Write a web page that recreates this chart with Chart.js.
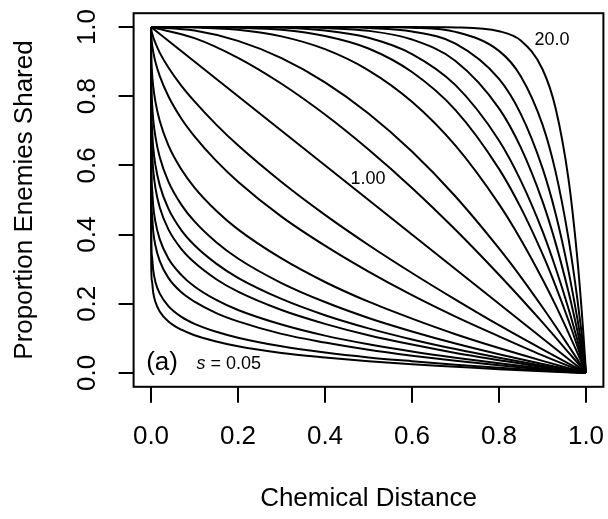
<!DOCTYPE html>
<html>
<head>
<meta charset="utf-8">
<script src="https://cdn.jsdelivr.net/npm/chart.js@4.4.1/dist/chart.umd.min.js"></script>
<style>
  html, body { margin: 0; padding: 0; background: #fff; }
</style>
</head>
<body>
<canvas id="chart" width="608" height="519"></canvas>
<script>
// Chemical distance grid for the curves that bend near the left edge (s <= 1)
const xLeft = [0, 0.0005, 0.002, 0.005, 0.01, 0.02, 0.04, 0.07, 0.1, 0.15, 0.2, 0.3, 0.4, 0.5, 0.6, 0.7, 0.8, 0.9, 1];
// Chemical distance grid for the curves that bend near the right edge (s > 1)
const xRight = [0, 0.1, 0.2, 0.3, 0.4, 0.5, 0.6, 0.7, 0.8, 0.85, 0.9, 0.93, 0.96, 0.98, 0.99, 0.995, 0.998, 0.9995, 1];

// Proportion of enemies shared, one array per shape value s
const shared_s0050 = [1, 0.316, 0.267, 0.233, 0.206, 0.178, 0.149, 0.125, 0.109, 0.091, 0.077, 0.058, 0.045, 0.034, 0.025, 0.018, 0.011, 0.005, 0];
const shared_s0067 = [1, 0.398, 0.339, 0.298, 0.264, 0.230, 0.193, 0.162, 0.142, 0.119, 0.102, 0.077, 0.059, 0.045, 0.034, 0.024, 0.015, 0.007, 0];
const shared_s0100 = [1, 0.532, 0.463, 0.411, 0.369, 0.324, 0.275, 0.233, 0.206, 0.173, 0.149, 0.113, 0.088, 0.067, 0.050, 0.035, 0.022, 0.010, 0];
const shared_s0125 = [1, 0.613, 0.540, 0.484, 0.438, 0.387, 0.331, 0.283, 0.250, 0.211, 0.182, 0.140, 0.108, 0.083, 0.062, 0.044, 0.028, 0.013, 0];
const shared_s0167 = [1, 0.718, 0.645, 0.587, 0.536, 0.479, 0.415, 0.358, 0.319, 0.271, 0.235, 0.182, 0.142, 0.109, 0.082, 0.058, 0.037, 0.017, 0];
const shared_s0200 = [1, 0.781, 0.712, 0.653, 0.602, 0.543, 0.475, 0.412, 0.369, 0.316, 0.275, 0.214, 0.167, 0.129, 0.097, 0.069, 0.044, 0.021, 0];
const shared_s0250 = [1, 0.850, 0.789, 0.734, 0.684, 0.624, 0.553, 0.486, 0.438, 0.378, 0.331, 0.260, 0.205, 0.159, 0.120, 0.085, 0.054, 0.026, 0];
const shared_s0333 = [1, 0.921, 0.874, 0.829, 0.785, 0.729, 0.658, 0.588, 0.536, 0.469, 0.415, 0.331, 0.263, 0.206, 0.157, 0.112, 0.072, 0.035, 0];
const shared_s0500 = [1, 0.978, 0.955, 0.929, 0.900, 0.859, 0.800, 0.735, 0.684, 0.613, 0.553, 0.452, 0.368, 0.293, 0.225, 0.163, 0.106, 0.051, 0];
const shared_s0667 = [1, 0.994, 0.984, 0.971, 0.954, 0.926, 0.883, 0.830, 0.785, 0.718, 0.658, 0.552, 0.457, 0.370, 0.289, 0.212, 0.138, 0.068, 0];
const linearX = [0, 1];
const shared_s1000 = [1, 0];
const shared_s1500 = [1, 0.968, 0.911, 0.836, 0.747, 0.646, 0.535, 0.414, 0.284, 0.216, 0.146, 0.103, 0.059, 0.030, 0.015, 0.0075, 0.003, 0.0007, 0];
const shared_s2000 = [1, 0.990, 0.960, 0.910, 0.840, 0.750, 0.640, 0.510, 0.360, 0.278, 0.190, 0.135, 0.078, 0.040, 0.020, 0.010, 0.004, 0.001, 0];
const shared_s3000 = [1, 0.999, 0.992, 0.973, 0.936, 0.875, 0.784, 0.657, 0.488, 0.386, 0.271, 0.196, 0.115, 0.059, 0.030, 0.015, 0.006, 0.0015, 0];
const shared_s4000 = [1, 1, 0.998, 0.992, 0.974, 0.938, 0.870, 0.760, 0.590, 0.478, 0.344, 0.252, 0.151, 0.078, 0.039, 0.020, 0.008, 0.002, 0];
const shared_s5000 = [1, 1, 1, 0.998, 0.990, 0.969, 0.922, 0.832, 0.672, 0.556, 0.410, 0.304, 0.185, 0.096, 0.049, 0.025, 0.010, 0.0025, 0];
const shared_s6500 = [1, 1, 1, 1, 0.997, 0.989, 0.964, 0.902, 0.765, 0.652, 0.496, 0.376, 0.233, 0.123, 0.063, 0.032, 0.013, 0.003, 0];
const shared_s8500 = [1, 1, 1, 1, 1, 0.997, 0.987, 0.952, 0.850, 0.749, 0.592, 0.461, 0.293, 0.158, 0.082, 0.042, 0.017, 0.004, 0];
const shared_s12000 = [1, 1, 1, 1, 1, 1, 0.998, 0.986, 0.931, 0.858, 0.718, 0.582, 0.387, 0.215, 0.114, 0.058, 0.024, 0.006, 0];
const shared_s20000 = [1, 1, 1, 1, 1, 1, 1, 0.999, 0.988, 0.961, 0.878, 0.766, 0.558, 0.332, 0.182, 0.095, 0.039, 0.010, 0];

// Axis tick values
const tickValues = [0, 0.2, 0.4, 0.6, 0.8, 1.0];

// Curve annotations: text and anchor (data units)
const curveLabels = ['20.0', '1.00'];
const curveLabelX = [0.922, 0.499];
const curveLabelY = [0.962, 0.562];

const curves = [
  [xLeft, shared_s0050], [xLeft, shared_s0067], [xLeft, shared_s0100], [xLeft, shared_s0125],
  [xLeft, shared_s0167], [xLeft, shared_s0200], [xLeft, shared_s0250], [xLeft, shared_s0333],
  [xLeft, shared_s0500], [xLeft, shared_s0667], [linearX, shared_s1000],
  [xRight, shared_s1500], [xRight, shared_s2000], [xRight, shared_s3000], [xRight, shared_s4000],
  [xRight, shared_s5000], [xRight, shared_s6500], [xRight, shared_s8500], [xRight, shared_s12000],
  [xRight, shared_s20000]
];

const FONT = "'Liberation Sans', Arial, Helvetica, sans-serif";

const datasets = curves.map(([xs, ys]) => ({
  data: xs.map((x, i) => ({ x: x, y: ys[i] })),
  showLine: true,
  borderColor: '#000',
  borderWidth: 2,
  pointRadius: 0,
  fill: false,
  cubicInterpolationMode: 'monotone'
}));

// Frame around the plotting region
const framePlugin = {
  id: 'frame',
  afterDatasetsDraw(chart) {
    const { ctx, chartArea: a } = chart;
    ctx.save();
    ctx.strokeStyle = '#000';
    ctx.lineWidth = 2;
    ctx.strokeRect(a.left, a.top, a.right - a.left, a.bottom - a.top);
    ctx.restore();
  }
};

// Curve labels and panel tag
const annotationPlugin = {
  id: 'annotations',
  afterDatasetsDraw(chart) {
    const { ctx, scales: { x, y } } = chart;
    ctx.save();
    ctx.fillStyle = '#000';
    ctx.textBaseline = 'middle';
    ctx.textAlign = 'center';
    ctx.font = `18px ${FONT}`;
    curveLabels.forEach((t, i) => {
      ctx.fillText(t, x.getPixelForValue(curveLabelX[i]), y.getPixelForValue(curveLabelY[i]));
    });
    // panel tag
    ctx.textAlign = 'left';
    ctx.font = `26px ${FONT}`;
    ctx.fillText('(a)', x.getPixelForValue(-0.011), y.getPixelForValue(0.029));
    // smallest shape value
    let px = x.getPixelForValue(0.1046);
    const py = y.getPixelForValue(0.026);
    ctx.font = `italic 18px ${FONT}`;
    ctx.fillText('s', px, py);
    px += ctx.measureText('s').width;
    ctx.font = `18px ${FONT}`;
    ctx.fillText(' = 0.05', px, py);
    ctx.restore();
  }
};

const setTicks = (scale) => { scale.ticks = tickValues.map(v => ({ value: v })); };
const noOverhang = (s) => { s.paddingLeft = 0; s.paddingRight = 0; s.paddingTop = 0; s.paddingBottom = 0; };

new Chart(document.getElementById('chart'), {
  type: 'scatter',
  data: { datasets },
  options: {
    responsive: false,
    animation: false,
    events: [],
    layout: { padding: { left: 0, right: 4.6, top: 13.2, bottom: 0 } },
    plugins: { legend: { display: false }, tooltip: { enabled: false } },
    scales: {
      x: {
        type: 'linear',
        min: -0.04,
        max: 1.04,
        afterBuildTicks: setTicks,
        afterFit: (s) => { s.height = 132.2; noOverhang(s); },
        border: { display: false },
        grid: { drawOnChartArea: false, drawTicks: true, tickLength: 16, color: '#000', lineWidth: 2 },
        ticks: {
          color: '#000', font: { family: FONT, size: 26 }, padding: 18.6,
          maxRotation: 0, autoSkip: false,
          callback: (v) => Number(v).toFixed(1)
        },
        title: {
          display: true, text: 'Chemical Distance', color: '#000',
          font: { family: FONT, size: 26 }, padding: { top: 0, bottom: 5 }
        }
      },
      y: {
        type: 'linear',
        min: -0.04,
        max: 1.04,
        afterBuildTicks: setTicks,
        afterFit: (s) => { s.width = 133.6; noOverhang(s); },
        border: { display: false },
        grid: { drawOnChartArea: false, drawTicks: true, tickLength: 15, color: '#000', lineWidth: 2 },
        ticks: {
          color: '#000', font: { family: FONT, size: 26 }, padding: 12.5,
          minRotation: 90, maxRotation: 90, crossAlign: 'center', autoSkip: false,
          callback: (v) => Number(v).toFixed(1)
        },
        title: {
          display: true, text: 'Proportion Enemies Shared', color: '#000',
          font: { family: FONT, size: 26 }, padding: { top: 9, bottom: 0 }
        }
      }
    }
  },
  plugins: [framePlugin, annotationPlugin]
});
</script>
</body>
</html>
